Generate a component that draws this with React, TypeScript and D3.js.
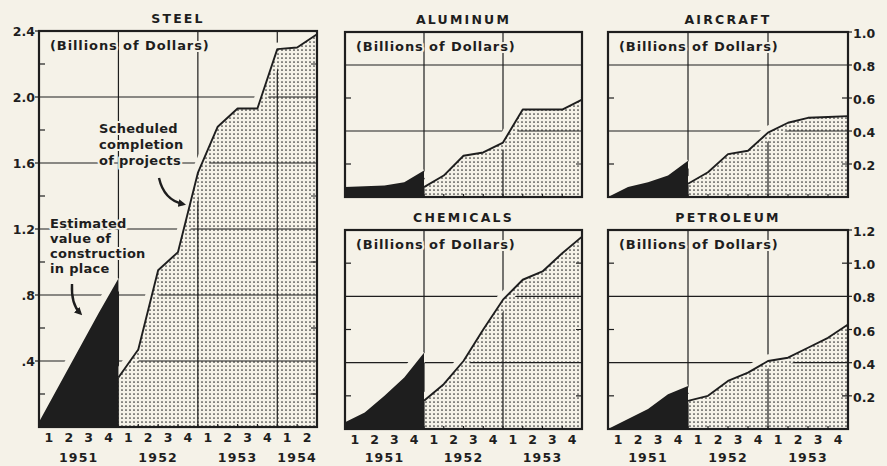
import * as d3 from 'd3';

const BG = '#f5f2e8';
const INK = '#1e1e1e';
const FONT = '"DejaVu Sans", Lato, sans-serif';

// quarters along the x axis
const QUARTERS = ['1', '2', '3', '4'];
const steelYears = ['1951', '1952', '1953', '1954'];
const otherYears = ['1951', '1952', '1953'];

// Billions of dollars at quarter ends (in place: 1951 Q0..Q4, scheduled: from end of 1951 on)
const steelInPlace = [0.03, 0.25, 0.47, 0.69, 0.9];
const steelScheduled = [0.3, 0.47, 0.95, 1.06, 1.54, 1.82, 1.93, 1.93, 2.29, 2.3, 2.38];
const aluminumInPlace = [0.06, 0.065, 0.07, 0.09, 0.16];
const aluminumScheduled = [0.06, 0.13, 0.25, 0.27, 0.33, 0.53, 0.53, 0.53, 0.59];
const aircraftInPlace = [0.0, 0.06, 0.09, 0.13, 0.22];
const aircraftScheduled = [0.08, 0.15, 0.26, 0.28, 0.39, 0.45, 0.48, 0.485, 0.49];
const chemicalsInPlace = [0.04, 0.1, 0.2, 0.31, 0.46];
const chemicalsScheduled = [0.17, 0.27, 0.41, 0.6, 0.78, 0.9, 0.95, 1.06, 1.16];
const petroleumInPlace = [0.0, 0.06, 0.12, 0.21, 0.26];
const petroleumScheduled = [0.17, 0.2, 0.29, 0.34, 0.41, 0.43, 0.49, 0.55, 0.63];

// axis ticks
const steelTicks = [0.4, 0.8, 1.2, 1.6, 2.0, 2.4];
const steelTickLabels = ['.4', '.8', '1.2', '1.6', '2.0', '2.4'];
const aircraftTicks = [0.2, 0.4, 0.6, 0.8, 1.0];
const aircraftTickLabels = ['0.2', '0.4', '0.6', '0.8', '1.0'];
const petroleumTicks = [0.2, 0.4, 0.6, 0.8, 1.0, 1.2];
const petroleumTickLabels = ['0.2', '0.4', '0.6', '0.8', '1.0', '1.2'];

type Box = { l: number; r: number; t: number; b: number };

interface PanelProps {
  id: string;
  title: string;
  box: Box;
  yMax: number;
  inPlace: number[];
  scheduled: number[];
  years?: string[];
  ticks?: number[];
  tickLabels?: string[];
  axis?: 'left' | 'right';
}

const halo = { stroke: BG, strokeWidth: 4, paintOrder: 'stroke' as const, strokeLinejoin: 'round' as const };

function Panel({ id, title, box, yMax, inPlace, scheduled, years, ticks, tickLabels, axis }: PanelProps) {
  const nq = inPlace.length - 1 + scheduled.length - 1;
  const x = d3.scaleLinear().domain([0, nq]).range([box.l, box.r]);
  const y = d3.scaleLinear().domain([0, yMax]).range([box.b, box.t]);
  const off = inPlace.length - 1;

  const placeArea = d3.area<number>().x((_, i) => x(i)).y0(box.b).y1(d => y(d));
  const schedArea = d3.area<number>().x((_, i) => x(i + off)).y0(box.b).y1(d => y(d));
  const placeLine = d3.line<number>().x((_, i) => x(i)).y(d => y(d));
  const schedLine = d3.line<number>().x((_, i) => x(i + off)).y(d => y(d));

  const steps = d3.range(1, Math.round(yMax / 0.2));
  const major = steps.filter(k => k % 2 === 0).map(k => k * 0.2);
  const minor = steps.filter(k => k % 2 === 1).map(k => k * 0.2);
  const yearEdges = d3.range(4, nq, 4);
  const qEdges = d3.range(1, nq);

  const grid = (
    <g stroke={INK} strokeWidth={1.2}>
      {major.map(v => <line key={'h' + v} x1={box.l} x2={box.r} y1={y(v)} y2={y(v)} />)}
      {yearEdges.map(q => <line key={'v' + q} x1={x(q)} x2={x(q)} y1={box.t} y2={box.b} />)}
      {minor.map(v => (
        <g key={'m' + v}>
          <line x1={box.l} x2={box.l + 6} y1={y(v)} y2={y(v)} />
          <line x1={box.r - 6} x2={box.r} y1={y(v)} y2={y(v)} />
        </g>
      ))}
      {qEdges.map(q => <line key={'q' + q} x1={x(q)} x2={x(q)} y1={box.b} y2={box.b - 3} />)}
    </g>
  );

  const HW = 13;

  return (
    <g>
      <defs>
        <clipPath id={`clip-${id}`}>
          <path d={schedArea(scheduled) ?? ''} />
        </clipPath>
      </defs>
      {grid}
      <path d={placeLine(inPlace) ?? ''} fill="none" stroke={BG} strokeWidth={HW} />
      <path d={schedLine(scheduled) ?? ''} fill="none" stroke={BG} strokeWidth={HW} />
      <path d={schedArea(scheduled) ?? ''} fill="url(#dots)" />
      <path d={placeArea(inPlace) ?? ''} fill={INK} />
      <g clipPath={`url(#clip-${id})`}>
        {grid}
        <path d={schedLine(scheduled) ?? ''} fill="none" stroke="url(#dots)" strokeWidth={HW} />
      </g>
      <path d={schedLine(scheduled) ?? ''} fill="none" stroke={INK} strokeWidth={1.9} strokeLinejoin="round" />
      <rect x={box.l} y={box.t} width={box.r - box.l} height={box.b - box.t} fill="none" stroke={INK} strokeWidth={2.2} />

      <text x={(box.l + box.r) / 2} y={box.t - 8} textAnchor="middle" fontSize={12.5} fontWeight={700} letterSpacing={2.2} fill={INK}>
        {title}
      </text>
      <text x={box.l + 11} y={box.t + 19} fontSize={13} fontWeight={700} letterSpacing={0.9} fill={INK} {...halo}>
        (Billions of Dollars)
      </text>

      {axis && ticks && tickLabels && (
        <g fill={INK} fontSize={12.5} fontWeight={700}>
          {ticks.map((v, i) => (
            <g key={'t' + v}>
              <line
                x1={axis === 'left' ? box.l - 4 : box.r}
                x2={axis === 'left' ? box.l : box.r + 4}
                y1={y(v)} y2={y(v)} stroke={INK} strokeWidth={1.2}
              />
              <text
                x={axis === 'left' ? box.l - 4 : box.r + 5}
                y={y(v) + (axis === 'left' ? 5 : 6)}
                textAnchor={axis === 'left' ? 'end' : 'start'}
              >
                {tickLabels[i]}
              </text>
            </g>
          ))}
        </g>
      )}

      {years && (
        <g fill={INK} fontSize={12.5} fontWeight={700} textAnchor="middle">
          {d3.range(nq).map(q => (
            <text key={'ql' + q} x={x(q + 0.5)} y={box.b + 15}>{QUARTERS[q % 4]}</text>
          ))}
          {years.map((yr, i) => (
            <text key={yr} x={x(Math.min(i * 4 + 2, (i * 4 + nq) / 2))} y={462} letterSpacing={1.2}>{yr}</text>
          ))}
        </g>
      )}
    </g>
  );
}

export default function App() {
  return (
    <div style={{ position: 'absolute', left: 0, top: 0, width: 887, height: 466, background: BG }}>
      <svg width={887} height={466} style={{ display: 'block', fontFamily: FONT }}>
        <defs>
          <pattern id="dots" width={4} height={4} patternUnits="userSpaceOnUse">
            <rect width={4} height={4} fill={BG} />
            <circle cx={2} cy={2} r={0.85} fill="#2e2e2e" />
          </pattern>
          <marker id="arrow" viewBox="0 0 10 10" refX={6} refY={5} markerWidth={3.2} markerHeight={3.2} orient="auto">
            <path d="M0,0 L10,5 L0,10 z" fill={INK} />
          </marker>
        </defs>
        <rect width={887} height={466} fill={BG} />

        <Panel id="steel" title="STEEL" box={{ l: 39, r: 317, t: 31, b: 427 }} yMax={2.4}
          inPlace={steelInPlace} scheduled={steelScheduled} years={steelYears}
          ticks={steelTicks} tickLabels={steelTickLabels} axis="left" />
        <Panel id="alu" title="ALUMINUM" box={{ l: 345, r: 582, t: 32, b: 197 }} yMax={1.0}
          inPlace={aluminumInPlace} scheduled={aluminumScheduled} />
        <Panel id="air" title="AIRCRAFT" box={{ l: 608, r: 848, t: 32, b: 197 }} yMax={1.0}
          inPlace={aircraftInPlace} scheduled={aircraftScheduled}
          ticks={aircraftTicks} tickLabels={aircraftTickLabels} axis="right" />
        <Panel id="chem" title="CHEMICALS" box={{ l: 345, r: 582, t: 230, b: 429 }} yMax={1.2}
          inPlace={chemicalsInPlace} scheduled={chemicalsScheduled} years={otherYears} />
        <Panel id="pet" title="PETROLEUM" box={{ l: 608, r: 848, t: 230, b: 429 }} yMax={1.2}
          inPlace={petroleumInPlace} scheduled={petroleumScheduled} years={otherYears}
          ticks={petroleumTicks} tickLabels={petroleumTickLabels} axis="right" />

        {/* steel annotations */}
        <g fill={INK} fontSize={13} fontWeight={700} letterSpacing={0.3} {...halo}>
          <text x={99} y={133}>Scheduled</text>
          <text x={99} y={149}>completion</text>
          <text x={99} y={165}>of projects</text>
          <text x={50} y={228}>Estimated</text>
          <text x={50} y={243}>value of</text>
          <text x={50} y={258}>construction</text>
          <text x={50} y={273}>in place</text>
        </g>
        <g fill="none" stroke={INK} strokeWidth={2.4} markerEnd="url(#arrow)">
          <path d="M159,178 Q164,200 183,204" />
          <path d="M72,284 Q71,304 80,313" />
        </g>
      </svg>
    </div>
  );
}
